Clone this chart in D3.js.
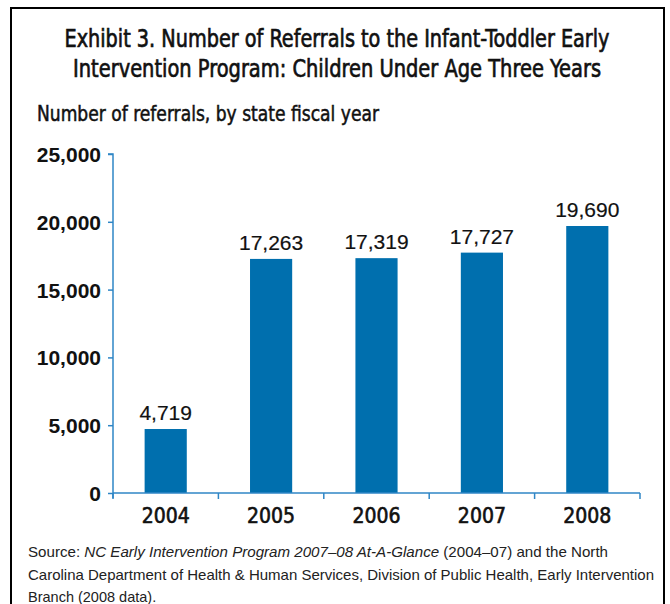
<!DOCTYPE html>
<html lang="en">
<head>
<meta charset="utf-8">
<title>Exhibit 3</title>
<script src="https://d3js.org/d3.v7.min.js"></script>
<style>
body { margin: 0; background: #fff; }
svg { display: block; }
.title { font-family: "DejaVu Sans Condensed", "Liberation Sans Narrow", "Liberation Sans", sans-serif; font-size: 22.5px; fill: #111; stroke: #111; stroke-width: 0.6px; }
.sub { font-family: "DejaVu Sans Condensed", "Liberation Sans Narrow", "Liberation Sans", sans-serif; font-size: 21px; fill: #111; stroke: #111; stroke-width: 0.5px; }
.ytick { font-family: "Liberation Sans", Arial, sans-serif; font-weight: bold; font-size: 21px; fill: #111; }
.year { font-family: "DejaVu Sans Condensed", "Liberation Sans", sans-serif; font-size: 21px; fill: #111; stroke: #111; stroke-width: 0.6px; }
.val { font-family: "Liberation Sans", Arial, sans-serif; font-size: 21px; fill: #111; stroke: #111; stroke-width: 0.2px; }
.src { font-family: "Liberation Sans", Arial, sans-serif; font-size: 14.5px; fill: #222; }
</style>
</head>
<body>
<div id="vis-container"></div>
<script>
// data
var years = ["2004", "2005", "2006", "2007", "2008"];
var referrals = [4719, 17263, 17319, 17727, 19690];
var yTicks = [0, 5000, 10000, 15000, 20000, 25000];

var W = 670, H = 604;
var svg = d3.select("#vis-container").append("svg")
    .attr("width", W).attr("height", H);

// outer frame (bottom runs off the page)
svg.append("path")
    .attr("d", "M11,620 L11,8 L664,8 L664,620")
    .attr("fill", "none").attr("stroke", "#000").attr("stroke-width", 2);

// titles (condensed look: stretched a little vertically)
svg.append("text").attr("class", "title")
    .attr("transform", "translate(337,47) scale(1,1.1)").attr("text-anchor", "middle")
    .attr("textLength", 545).attr("lengthAdjust", "spacingAndGlyphs")
    .text("Exhibit 3. Number of Referrals to the Infant-Toddler Early");
svg.append("text").attr("class", "title")
    .attr("transform", "translate(337,77) scale(1,1.1)").attr("text-anchor", "middle")
    .attr("textLength", 528).attr("lengthAdjust", "spacingAndGlyphs")
    .text("Intervention Program: Children Under Age Three Years");
svg.append("text").attr("class", "sub")
    .attr("x", 37).attr("y", 121)
    .attr("textLength", 342).attr("lengthAdjust", "spacingAndGlyphs")
    .text("Number of referrals, by state fiscal year");

var margin = { left: 113, top: 154 };
var width = 640 - 113, height = 493 - 154;
var g = svg.append("g").attr("transform", "translate(" + margin.left + "," + margin.top + ")");

var xScale = d3.scaleBand().domain(years).range([0, width]).paddingInner(0.6).paddingOuter(0.3);
var yScale = d3.scaleLinear().domain([0, 25000]).range([height, 0]);

var axisColor = "#2f86c6";

// bars
g.selectAll(".bar")
    .data(referrals)
    .enter().append("rect")
    .attr("class", "bar")
    .attr("x", function(d, i) { return xScale(years[i]); })
    .attr("y", function(d) { return yScale(d); })
    .attr("width", xScale.bandwidth())
    .attr("height", function(d) { return height - yScale(d); })
    .attr("fill", "#006fae");

// value labels
g.selectAll(".val")
    .data(referrals)
    .enter().append("text")
    .attr("class", "val")
    .attr("x", function(d, i) { return xScale(years[i]) + xScale.bandwidth() / 2; })
    .attr("y", function(d) { return yScale(d) - 9; })
    .attr("text-anchor", "middle")
    .text(function(d) { return d3.format(",")(d); });

// y axis
var yAxis = d3.axisLeft(yScale).tickValues(yTicks).tickSize(5).tickPadding(7)
    .tickFormat(d3.format(","));
var ya = g.append("g").call(yAxis);
ya.select(".domain").attr("stroke", axisColor).attr("stroke-width", 1.5).attr("d", "M0," + (height + 5) + "V0H-5");
ya.selectAll(".tick line").attr("stroke", axisColor).attr("stroke-width", 1.5);
ya.selectAll(".tick text").attr("class", "ytick").attr("dy", "0.36em");

// x axis: line with ticks at band boundaries
var xa = g.append("g").attr("transform", "translate(0," + height + ")");
xa.append("line").attr("x1", 0).attr("x2", width).attr("y1", 0).attr("y2", 0)
    .attr("stroke", axisColor).attr("stroke-width", 1.5);
xa.selectAll(".xt")
    .data(d3.range(years.length + 1))
    .enter().append("line")
    .attr("x1", function(i) { return i * width / years.length; })
    .attr("x2", function(i) { return i * width / years.length; })
    .attr("y1", 0).attr("y2", 6)
    .attr("stroke", axisColor).attr("stroke-width", 1.5);
xa.selectAll(".year")
    .data(years)
    .enter().append("text")
    .attr("class", "year")
    .attr("x", function(d) { return xScale(d) + xScale.bandwidth() / 2; })
    .attr("y", 30)
    .attr("text-anchor", "middle")
    .text(function(d) { return d; });

// source note
var src = svg.append("text").attr("class", "src").attr("x", 28).attr("y", 557)
    .attr("textLength", 580).attr("lengthAdjust", "spacingAndGlyphs");
src.append("tspan").text("Source: ");
src.append("tspan").attr("font-style", "italic").text("NC Early Intervention Program 2007\u201308 At-A-Glance");
src.append("tspan").text(" (2004\u201307) and the North");
svg.append("text").attr("class", "src").attr("x", 28).attr("y", 580)
    .attr("textLength", 626).attr("lengthAdjust", "spacingAndGlyphs")
    .text("Carolina Department of Health & Human Services, Division of Public Health, Early Intervention");
svg.append("text").attr("class", "src").attr("x", 28).attr("y", 602)
    .text("Branch (2008 data).");
</script>
</body>
</html>
